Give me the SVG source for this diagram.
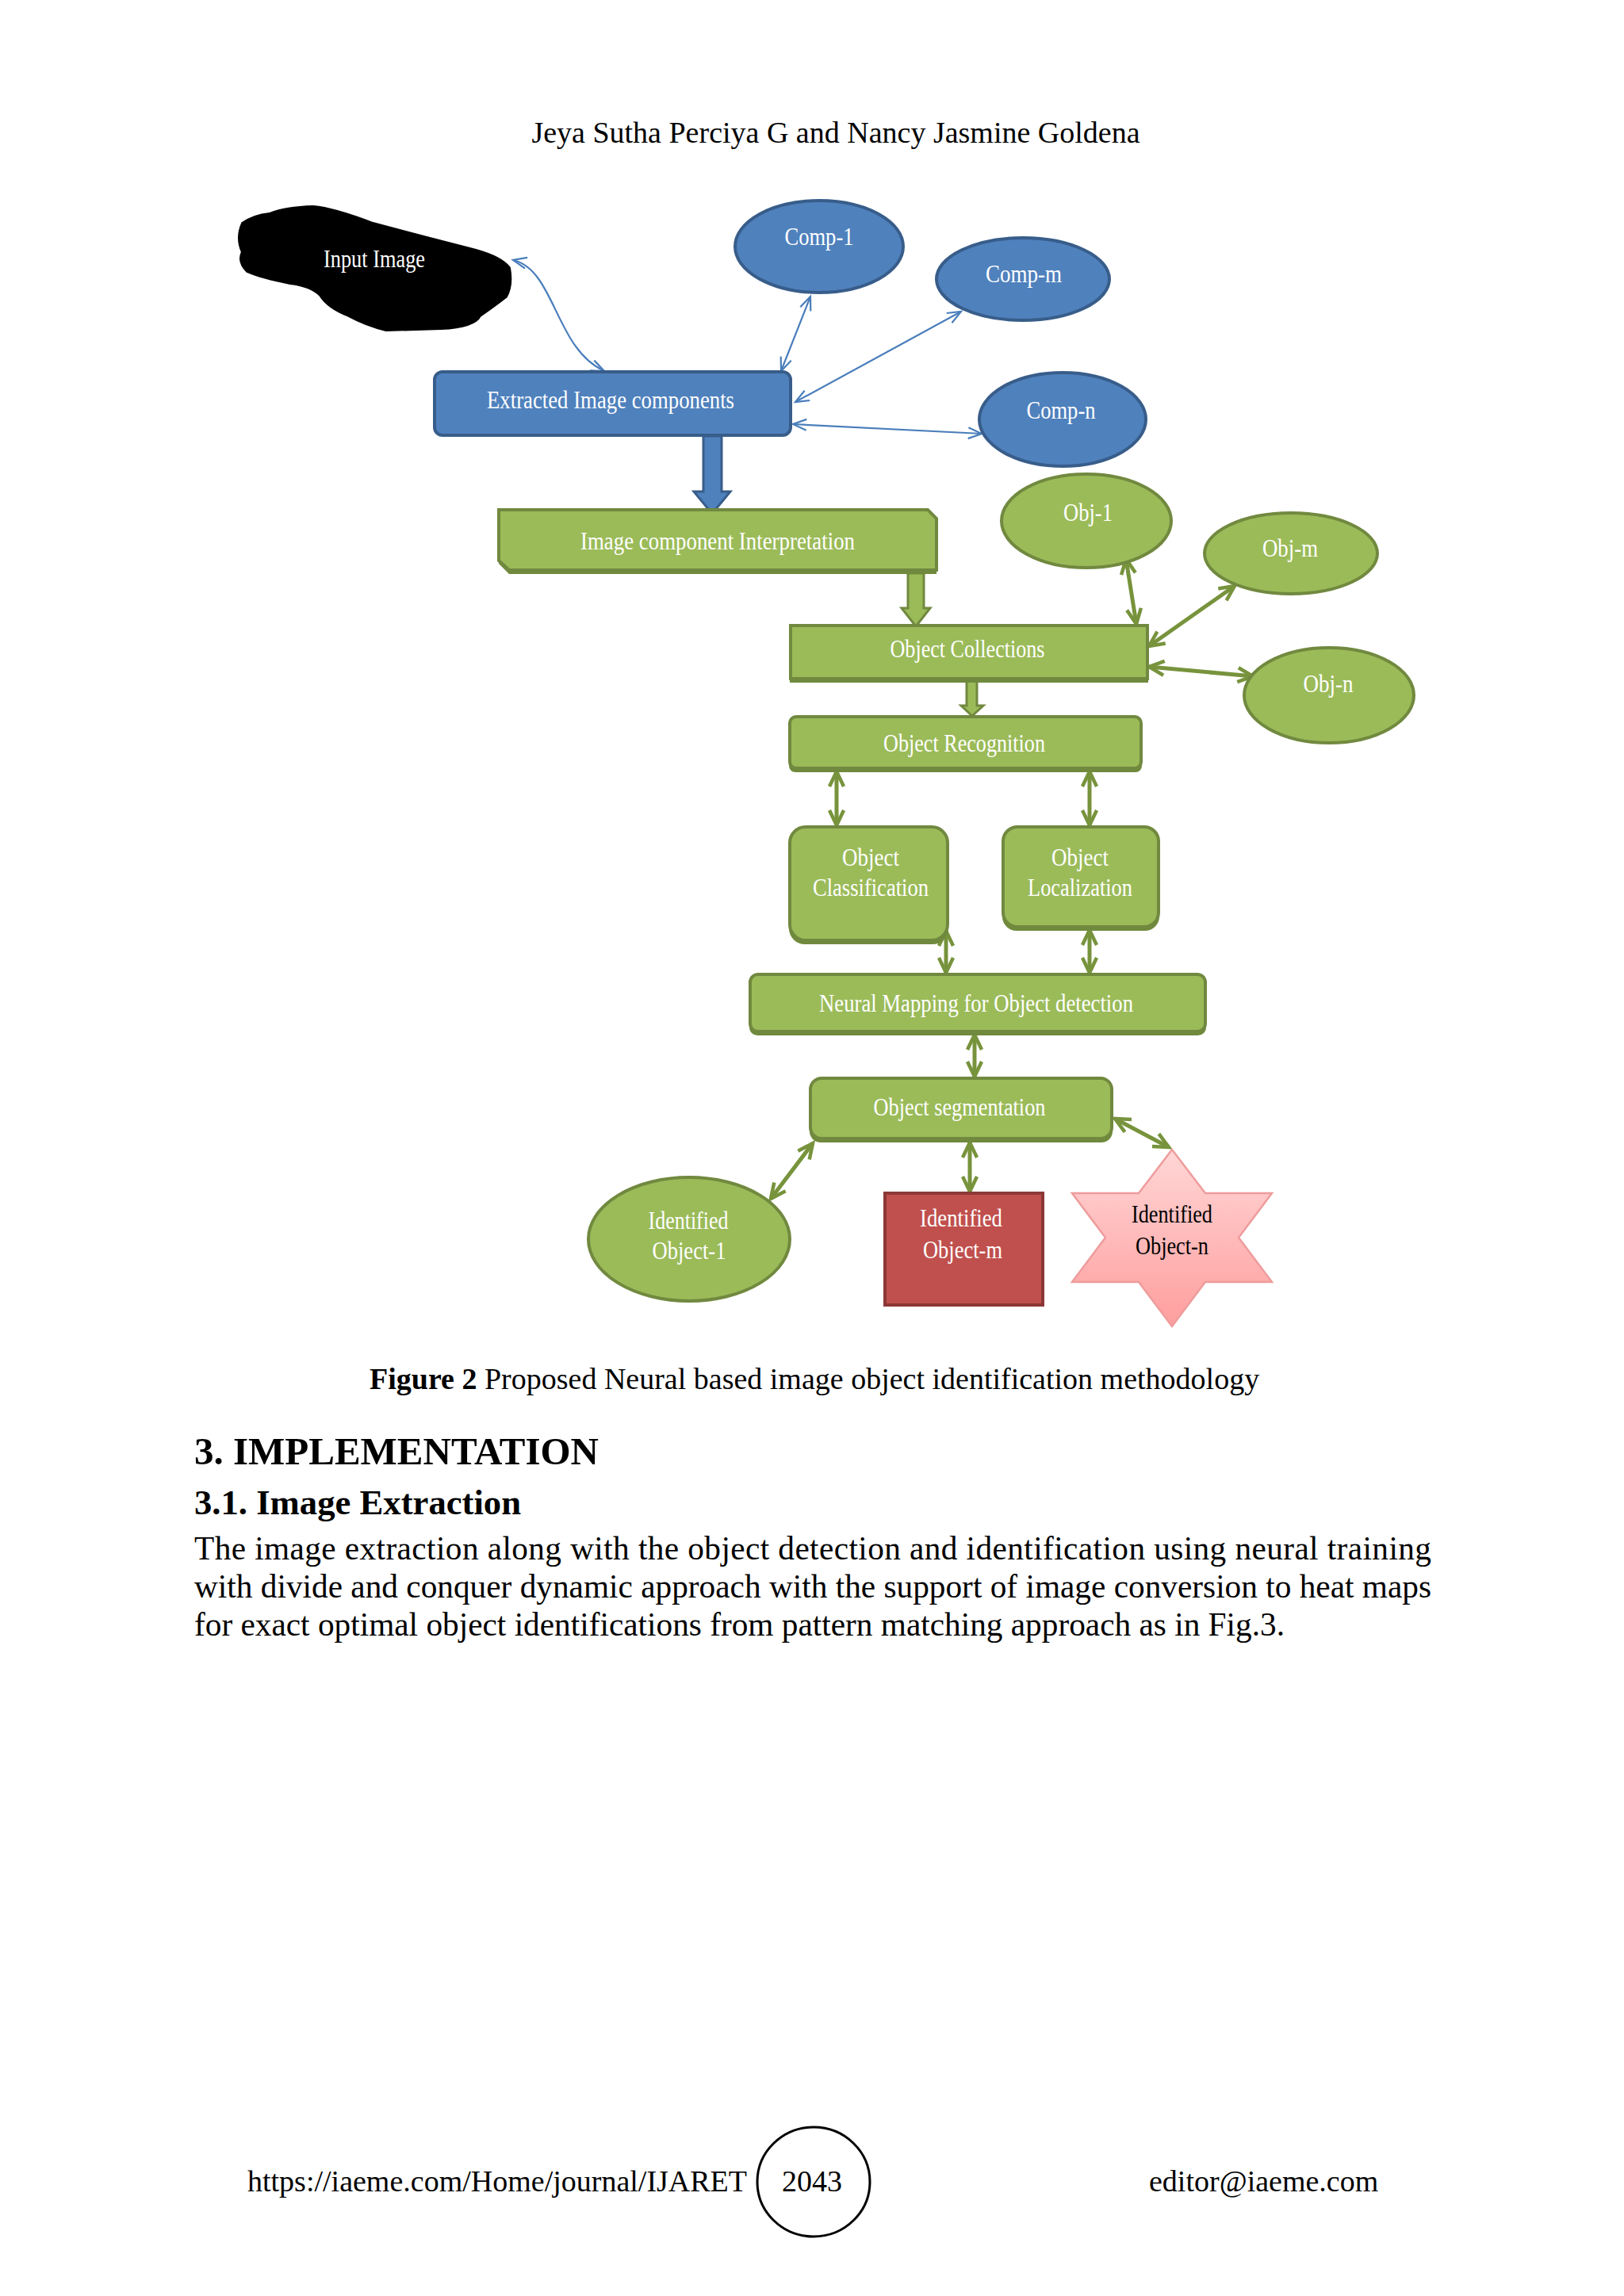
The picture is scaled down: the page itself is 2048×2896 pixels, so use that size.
<svg xmlns="http://www.w3.org/2000/svg" width="2048" height="2896" viewBox="0 0 2048 2896">
<style>
.page{font-family:"Liberation Serif","Times New Roman",serif;fill:#000}
.lbl{font-family:"Liberation Serif","Times New Roman",serif;font-size:31px;fill:#fff;text-anchor:middle}
.lblk{font-family:"Liberation Serif","Times New Roman",serif;font-size:31px;fill:#000;text-anchor:middle}
.bshape{fill:#4F81BD;stroke:#385D8A;stroke-width:4}
.gshape{fill:#9BBB59;stroke:#71893F;stroke-width:4}
.gshadow{fill:#6F8A3C}
.bline{fill:none;stroke:#4A7EBB;stroke-width:2.2;marker-start:url(#ba);marker-end:url(#ba)}
.gline{fill:none;stroke:#77933C;stroke-width:5;marker-start:url(#ga);marker-end:url(#ga)}
</style>
<defs>
<marker id="ba" markerUnits="userSpaceOnUse" viewBox="-24 -14 30 28" refX="0" refY="0" markerWidth="30" markerHeight="28" orient="auto-start-reverse" overflow="visible">
<path d="M -17 -7 L 0 0 L -17 7" fill="none" stroke="#4A7EBB" stroke-width="2.2"/>
</marker>
<marker id="ga" markerUnits="userSpaceOnUse" viewBox="-24 -14 30 28" refX="0" refY="0" markerWidth="30" markerHeight="28" orient="auto-start-reverse" overflow="visible">
<path d="M -19 -9 L 0 0 L -19 9" fill="none" stroke="#77933C" stroke-width="4.5"/>
</marker>
<linearGradient id="pink" x1="0" y1="0" x2="0" y2="1">
<stop offset="0" stop-color="#FFD6D6"/>
<stop offset="1" stop-color="#FF9E9E"/>
</linearGradient>
</defs>
<rect width="2048" height="2896" fill="#FFFFFF"/>

<text class="page" x="1054" y="180" font-size="38" text-anchor="middle">Jeya Sutha Perciya G and Nancy Jasmine Goldena</text>

<g id="connectors">
<path class="bline" d="M 647 328 C 700 340 700 440 762 468"/>
<path class="bline" d="M 1022 374 L 985 468"/>
<path class="bline" d="M 1212 393 L 1003 507"/>
<path class="bline" d="M 1238 547 L 1000 535"/>
<polygon points="887,550 910,550 910,620 921,620 898,648 875,620 887,620" fill="#4F81BD" stroke="#385D8A" stroke-width="3"/>
<polygon points="1145,723 1165,723 1165,767 1173,767 1155,790 1137,767 1145,767" fill="#9BBB59" stroke="#71893F" stroke-width="3"/>
<polygon points="1219,858 1232,858 1232,890 1240,890 1226,903 1212,890 1219,890" fill="#9BBB59" stroke="#71893F" stroke-width="3"/>
<path class="gline" d="M 1420 705 L 1433 787"/>
<path class="gline" d="M 1557 739 L 1449 815"/>
<path class="gline" d="M 1449 841 L 1580 853"/>
<path class="gline" d="M 1055 973 L 1055 1041"/>
<path class="gline" d="M 1374 973 L 1374 1041"/>
<path class="gline" d="M 1193 1174 L 1193 1227"/>
<path class="gline" d="M 1374 1173 L 1374 1227"/>
<path class="gline" d="M 1229 1305 L 1229 1358"/>
<path class="gline" d="M 1025 1442 L 972 1512"/>
<path class="gline" d="M 1223 1441 L 1223 1503"/>
<path class="gline" d="M 1406 1411 L 1474 1447"/>
</g>

<g id="input-image">
<path d="M 306 282 Q 320 272 340 270 Q 360 262 395 261 Q 420 263 470 282 L 538 300 L 600 316 Q 632 325 642 338 Q 646 360 638 374 Q 620 388 605 398 Q 598 412 556 414 L 487 416 Q 462 410 440 398 Q 414 388 404 372 Q 392 360 366 357 Q 330 350 312 342 Q 300 330 306 318 Q 298 300 306 282 Z" fill="#000" stroke="#000" stroke-width="4" stroke-linejoin="round"/>
<text class="lbl" x="472" y="337" textLength="128" lengthAdjust="spacingAndGlyphs">Input Image</text>
</g>

<g id="comp-1">
<ellipse class="bshape" cx="1033" cy="311" rx="106" ry="58"/>
<text class="lbl" x="1033" y="309" textLength="87" lengthAdjust="spacingAndGlyphs">Comp-1</text>
</g>
<g id="comp-m">
<ellipse class="bshape" cx="1290" cy="352" rx="109" ry="52"/>
<text class="lbl" x="1291" y="356" textLength="96" lengthAdjust="spacingAndGlyphs">Comp-m</text>
</g>
<g id="comp-n">
<ellipse class="bshape" cx="1340" cy="529" rx="105" ry="59"/>
<text class="lbl" x="1338" y="528" textLength="87" lengthAdjust="spacingAndGlyphs">Comp-n</text>
</g>

<g id="extracted">
<rect class="bshape" x="548" y="469" width="449" height="80" rx="10"/>
<text class="lbl" x="770" y="515" textLength="312" lengthAdjust="spacingAndGlyphs">Extracted Image components</text>
</g>

<g id="interpretation">
<path class="gshadow" d="M 629 647 L 1170 647 L 1181 658 L 1181 724 L 642 724 L 629 711 Z"/>
<path class="gshape" d="M 629 643 L 1170 643 L 1181 654 L 1181 719 L 642 719 L 629 707 Z"/>
<text class="lbl" x="905" y="693" textLength="346" lengthAdjust="spacingAndGlyphs">Image component Interpretation</text>
</g>

<g id="obj-1">
<ellipse class="gshape" cx="1370" cy="657" rx="107" ry="59"/>
<text class="lbl" x="1372" y="657" textLength="62" lengthAdjust="spacingAndGlyphs">Obj-1</text>
</g>
<g id="obj-m">
<ellipse class="gshape" cx="1628" cy="698" rx="109" ry="51"/>
<text class="lbl" x="1627" y="702" textLength="70" lengthAdjust="spacingAndGlyphs">Obj-m</text>
</g>
<g id="obj-n">
<ellipse class="gshape" cx="1676" cy="877" rx="107" ry="60"/>
<text class="lbl" x="1675" y="873" textLength="63" lengthAdjust="spacingAndGlyphs">Obj-n</text>
</g>

<g id="collections">
<rect class="gshadow" x="996" y="792" width="452" height="69"/>
<rect class="gshape" x="997" y="789" width="450" height="67"/>
<text class="lbl" x="1220" y="829" textLength="195" lengthAdjust="spacingAndGlyphs">Object Collections</text>
</g>

<g id="recognition">
<rect class="gshadow" x="995" y="907" width="445" height="67" rx="8"/>
<rect class="gshape" x="996" y="904" width="443" height="65" rx="8"/>
<text class="lbl" x="1216" y="948" textLength="204" lengthAdjust="spacingAndGlyphs">Object Recognition</text>
</g>

<g id="classification">
<rect class="gshadow" x="995" y="1046" width="201" height="145" rx="20"/>
<rect class="gshape" x="996" y="1043" width="199" height="143" rx="20"/>
<text class="lbl" x="1098" y="1092" textLength="72" lengthAdjust="spacingAndGlyphs">Object</text>
<text class="lbl" x="1098" y="1130" textLength="146" lengthAdjust="spacingAndGlyphs">Classification</text>
</g>

<g id="localization">
<rect class="gshadow" x="1264" y="1046" width="198" height="128" rx="18"/>
<rect class="gshape" x="1265" y="1043" width="196" height="126" rx="18"/>
<text class="lbl" x="1362" y="1092" textLength="72" lengthAdjust="spacingAndGlyphs">Object</text>
<text class="lbl" x="1362" y="1130" textLength="132" lengthAdjust="spacingAndGlyphs">Localization</text>
</g>

<g id="neural">
<rect class="gshadow" x="945" y="1232" width="576" height="74" rx="10"/>
<rect class="gshape" x="946" y="1229" width="574" height="72" rx="10"/>
<text class="lbl" x="1231" y="1276" textLength="396" lengthAdjust="spacingAndGlyphs">Neural Mapping for Object detection</text>
</g>

<g id="segmentation">
<rect class="gshadow" x="1021" y="1363" width="382" height="78" rx="14"/>
<rect class="gshape" x="1022" y="1360" width="380" height="76" rx="14"/>
<text class="lbl" x="1210" y="1407" textLength="217" lengthAdjust="spacingAndGlyphs">Object segmentation</text>
</g>

<g id="identified-1">
<ellipse class="gshape" cx="869" cy="1563" rx="127" ry="78"/>
<text class="lbl" x="868" y="1550" textLength="101" lengthAdjust="spacingAndGlyphs">Identified</text>
<text class="lbl" x="869" y="1588" textLength="93" lengthAdjust="spacingAndGlyphs">Object-1</text>
</g>

<g id="identified-m">
<rect x="1116" y="1505" width="199" height="141" fill="#C0504D" stroke="#8C3836" stroke-width="4"/>
<text class="lbl" x="1212" y="1547" textLength="104" lengthAdjust="spacingAndGlyphs">Identified</text>
<text class="lbl" x="1214" y="1587" textLength="100" lengthAdjust="spacingAndGlyphs">Object-m</text>
</g>

<g id="identified-n">
<polygon points="1478,1450 1520,1505 1604,1505 1562,1561 1604,1617 1520,1617 1478,1673 1436,1617 1352,1617 1394,1561 1352,1505 1436,1505" fill="url(#pink)" stroke="#EE9C9C" stroke-width="2.5"/>
<text class="lblk" x="1478" y="1542" textLength="102" lengthAdjust="spacingAndGlyphs">Identified</text>
<text class="lblk" x="1478" y="1582" textLength="92" lengthAdjust="spacingAndGlyphs">Object-n</text>
</g>

<text class="page" x="466" y="1752" font-size="38"><tspan font-weight="bold">Figure 2</tspan> Proposed Neural based image object identification methodology</text>

<text class="page" x="245" y="1847" font-size="49" font-weight="bold">3. IMPLEMENTATION</text>
<text class="page" x="245" y="1910" font-size="44.7" font-weight="bold">3.1. Image Extraction</text>
<text class="page" x="245" y="1967" font-size="41.3" textLength="1560" lengthAdjust="spacing">The image extraction along with the object detection and identification using neural training</text>
<text class="page" x="245" y="2015" font-size="41.3" textLength="1560" lengthAdjust="spacing">with divide and conquer dynamic approach with the support of image conversion to heat maps</text>
<text class="page" x="245" y="2063" font-size="41.3">for exact optimal object identifications from pattern matching approach as in Fig.3.</text>

<g id="footer">
<text class="page" x="312" y="2764" font-size="38">https://iaeme.com/Home/journal/IJARET</text>
<ellipse cx="1026" cy="2752" rx="71" ry="69" fill="none" stroke="#000" stroke-width="3"/>
<text class="page" x="1024" y="2764" font-size="38" text-anchor="middle">2043</text>
<text class="page" x="1449" y="2764" font-size="38">editor@iaeme.com</text>
</g>
</svg>
